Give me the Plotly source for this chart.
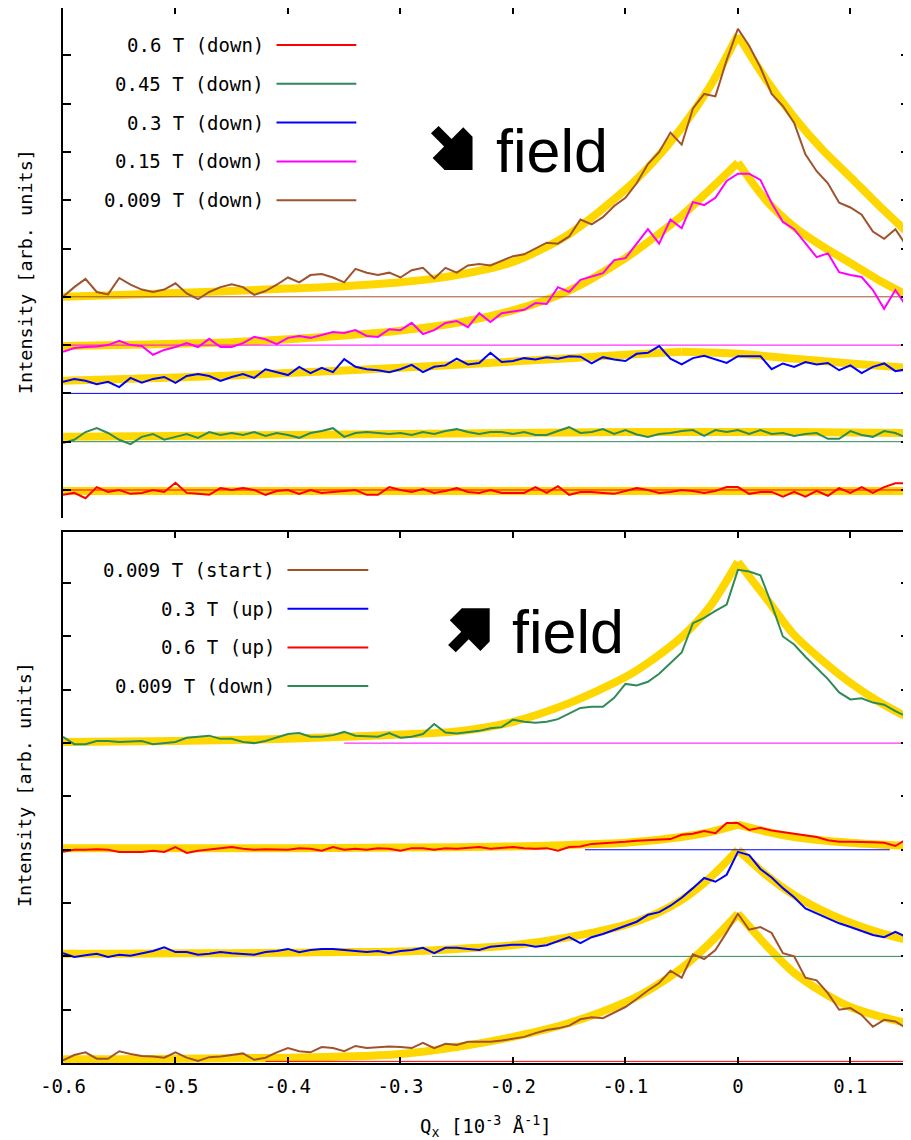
import plotly.graph_objects as go

# ---------------- data ----------------
QX = [-0.60, -0.59, -0.58, -0.57, -0.56, -0.55, -0.54, -0.53, -0.52, -0.51,
      -0.50, -0.49, -0.48, -0.47, -0.46, -0.45, -0.44, -0.43, -0.42, -0.41,
      -0.40, -0.39, -0.38, -0.37, -0.36, -0.35, -0.34, -0.33, -0.32, -0.31,
      -0.30, -0.29, -0.28, -0.27, -0.26, -0.25, -0.24, -0.23, -0.22, -0.21,
      -0.20, -0.19, -0.18, -0.17, -0.16, -0.15, -0.14, -0.13, -0.12, -0.11,
      -0.10, -0.09, -0.08, -0.07, -0.06, -0.05, -0.04, -0.03, -0.02, -0.01,
      0.00, 0.01, 0.02, 0.03, 0.04, 0.05, 0.06, 0.07, 0.08, 0.09,
      0.10, 0.11, 0.12, 0.13, 0.14, 0.15]

# top panel (field decreasing), values already offset as plotted
TOP_0009_DOWN = [4.0, 4.2, 4.37, 4.1, 4.05, 4.39, 4.25, 4.15, 4.1, 4.15,
                 4.28, 4.07, 3.95, 4.1, 4.2, 4.26, 4.2, 4.04, 4.12, 4.25,
                 4.4, 4.3, 4.45, 4.47, 4.4, 4.3, 4.58, 4.5, 4.45, 4.5,
                 4.4, 4.55, 4.6, 4.38, 4.6, 4.5, 4.65, 4.68, 4.65, 4.75,
                 4.84, 4.88, 5.0, 5.12, 5.1, 5.25, 5.6, 5.5, 5.65, 5.88,
                 6.05, 6.35, 6.75, 7.0, 7.4, 7.15, 7.9, 8.2, 8.15, 8.9,
                 9.55, 9.2, 8.75, 8.2, 7.95, 7.6, 6.95, 6.6, 6.35, 5.95,
                 5.85, 5.7, 5.35, 5.2, 5.4, 5.05]
TOP_015_DOWN = [2.86, 2.94, 2.96, 2.97, 3.0, 3.09, 3.0, 2.98, 2.8, 2.9,
                2.96, 3.04, 2.96, 3.13, 2.96, 2.96, 3.04, 3.17, 3.12, 3.02,
                3.15, 3.19, 3.15, 3.21, 3.27, 3.25, 3.31, 3.19, 3.17, 3.33,
                3.31, 3.46, 3.23, 3.31, 3.46, 3.5, 3.37, 3.66, 3.48, 3.66,
                3.69, 3.73, 3.87, 3.85, 4.2, 4.1, 4.35, 4.42, 4.49, 4.76,
                4.8, 5.1, 5.4, 5.1, 5.6, 5.42, 5.96, 5.9, 6.05, 6.4,
                6.55, 6.55, 6.42, 5.94, 5.55, 5.4, 5.11, 4.82, 4.9, 4.51,
                4.45, 4.41, 4.14, 3.75, 4.14, 3.8]
TOP_03_DOWN = [2.24, 2.3, 2.26, 2.19, 2.24, 2.13, 2.32, 2.22, 2.3, 2.34,
               2.22, 2.36, 2.4, 2.36, 2.26, 2.34, 2.4, 2.32, 2.5, 2.44,
               2.38, 2.55, 2.42, 2.53, 2.44, 2.71, 2.55, 2.5, 2.48, 2.44,
               2.5, 2.59, 2.44, 2.55, 2.58, 2.72, 2.6, 2.63, 2.84, 2.65,
               2.67, 2.73, 2.7, 2.75, 2.72, 2.77, 2.76, 2.62, 2.75, 2.7,
               2.67, 2.82, 2.84, 2.98, 2.72, 2.6, 2.73, 2.78, 2.7, 2.63,
               2.77, 2.77, 2.77, 2.5, 2.62, 2.55, 2.65, 2.6, 2.63, 2.48,
               2.58, 2.42, 2.55, 2.62, 2.46, 2.5]
TOP_045_DOWN = [0.97, 1.04, 1.2, 1.28, 1.18, 1.04, 0.95, 1.1, 1.16, 1.04,
                1.1, 1.16, 1.08, 1.2, 1.14, 1.18, 1.14, 1.2, 1.12, 1.18,
                1.14, 1.08, 1.18, 1.22, 1.28, 1.1, 1.18, 1.2, 1.18, 1.16,
                1.18, 1.14, 1.2, 1.16, 1.22, 1.26, 1.2, 1.16, 1.2, 1.2,
                1.16, 1.2, 1.14, 1.14, 1.22, 1.3, 1.18, 1.2, 1.26, 1.16,
                1.24, 1.15, 1.1, 1.16, 1.18, 1.22, 1.24, 1.12, 1.24, 1.2,
                1.24, 1.16, 1.24, 1.16, 1.18, 1.12, 1.16, 1.18, 1.06, 1.06,
                1.22, 1.14, 1.1, 1.22, 1.18, 1.08]
TOP_06_DOWN = [-0.1, -0.06, -0.17, 0.06, -0.04, 0.0, -0.08, -0.06, 0.0, -0.04,
               0.15, -0.06, -0.08, -0.1, 0.04, 0.0, 0.04, 0.0, -0.1, -0.02,
               0.0, -0.08, 0.0, -0.06, -0.04, -0.02, 0.0, -0.1, -0.1, 0.06,
               0.0, -0.04, 0.02, -0.06, -0.02, 0.04, -0.04, -0.06, 0.0, -0.06,
               -0.06, -0.06, 0.06, -0.06, 0.08, -0.1, -0.04, -0.04, -0.06, -0.08,
               -0.02, 0.04, 0.0, -0.06, -0.04, 0.0, -0.02, -0.06, -0.02, 0.06,
               0.06, -0.08, -0.04, -0.04, -0.14, -0.04, -0.14, -0.02, -0.12, 0.04,
               -0.06, 0.06, -0.06, 0.06, 0.14, 0.14]

# bottom panel (field increasing)
BOT_0009_DOWN = [6.12, 5.98, 5.98, 6.04, 6.04, 6.02, 6.03, 6.04, 5.98, 6.0,
                 6.02, 6.1, 6.12, 6.14, 6.08, 6.08, 6.02, 6.0, 6.04, 6.1,
                 6.17, 6.19, 6.12, 6.12, 6.15, 6.21, 6.14, 6.13, 6.12, 6.19,
                 6.1, 6.12, 6.17, 6.36, 6.2, 6.18, 6.21, 6.23, 6.28, 6.3,
                 6.44, 6.4, 6.38, 6.4, 6.45, 6.55, 6.66, 6.68, 6.68, 6.85,
                 7.11, 7.08, 7.15, 7.3, 7.5, 7.7, 8.25, 8.35, 8.48, 8.6,
                 9.25, 9.22, 9.15, 8.6, 8.0, 7.85, 7.62, 7.4, 7.2, 6.95,
                 6.82, 6.84, 6.76, 6.72, 6.6, 6.5]
BOT_06_UP = [3.96, 4.0, 4.0, 4.01, 4.0, 3.96, 3.96, 3.96, 3.98, 3.96,
             4.05, 3.94, 3.98, 4.0, 4.02, 4.05, 4.02, 4.0, 4.01, 4.0,
             4.0, 4.03, 4.02, 3.98, 4.05, 4.0, 4.02, 4.0, 4.03, 4.02,
             3.98, 4.03, 4.03, 4.0, 4.03, 4.02, 4.03, 4.05, 4.02, 4.03,
             4.05, 4.03, 4.02, 4.03, 3.98, 4.05, 4.06, 4.11, 4.12, 4.13,
             4.15, 4.17, 4.18, 4.18, 4.2, 4.28, 4.3, 4.35, 4.31, 4.5,
             4.5, 4.37, 4.41, 4.36, 4.33, 4.3, 4.27, 4.24, 4.18, 4.15,
             4.15, 4.15, 4.14, 4.13, 4.07, 4.2]
BOT_03_UP = [2.06, 1.99, 2.02, 2.05, 1.99, 2.03, 2.01, 2.06, 2.1, 2.17,
             2.08, 2.08, 2.03, 2.05, 2.08, 2.06, 2.05, 2.03, 2.08, 2.1,
             2.14, 2.08, 2.12, 2.14, 2.14, 2.12, 2.1, 2.08, 2.1, 2.06,
             2.1, 2.12, 2.16, 2.06, 2.16, 2.16, 2.14, 2.12, 2.18, 2.2,
             2.22, 2.22, 2.18, 2.21, 2.28, 2.36, 2.25, 2.36, 2.42, 2.5,
             2.58, 2.65, 2.78, 2.83, 2.95, 3.1, 3.28, 3.47, 3.4, 3.53,
             3.96, 3.9, 3.64, 3.48, 3.28, 3.11, 2.9, 2.81, 2.72, 2.62,
             2.55, 2.48, 2.4, 2.36, 2.46, 2.36]
BOT_0009_START = [0.05, 0.15, 0.2, 0.08, 0.08, 0.22, 0.17, 0.13, 0.12, 0.1,
                  0.2, 0.1, 0.04, 0.11, 0.12, 0.15, 0.18, 0.06, 0.1, 0.2,
                  0.28, 0.22, 0.2, 0.3, 0.28, 0.22, 0.32, 0.28, 0.3, 0.31,
                  0.3, 0.28, 0.38, 0.28, 0.36, 0.34, 0.4, 0.4, 0.4, 0.42,
                  0.45, 0.49, 0.56, 0.62, 0.65, 0.7, 0.82, 0.86, 0.84, 0.95,
                  1.05, 1.2, 1.36, 1.5, 1.73, 1.6, 2.04, 1.95, 2.12, 2.45,
                  2.8, 2.5, 2.55, 2.44, 2.06, 2.0, 1.6, 1.55, 1.31, 1.0,
                  1.03, 0.9, 0.68, 0.81, 0.78, 0.65]

# fitted curves (yellow)
FIT_X_WIDE = [-0.6, -0.55, -0.5, -0.45, -0.4, -0.35, -0.3, -0.25, -0.2, -0.15,
              -0.1, -0.075, -0.05, -0.025, 0.0, 0.025, 0.05, 0.075, 0.1, 0.125, 0.15]
FIT_TOP_0009 = [4.0, 4.04, 4.08, 4.12, 4.17, 4.22, 4.3, 4.45, 4.72, 5.3,
                6.22, 6.8, 7.5, 8.35, 9.42, 8.5, 7.72, 7.05, 6.48, 5.9, 5.35]
FIT_TOP_015 = [2.98, 3.0, 3.03, 3.06, 3.12, 3.2, 3.3, 3.46, 3.72, 4.13,
               4.8, 5.22, 5.68, 6.22, 6.78, 6.0, 5.45, 5.05, 4.7, 4.35, 4.04]
FIT_BOT_0009_DOWN = [6.02, 6.03, 6.04, 6.06, 6.08, 6.12, 6.16, 6.22, 6.4, 6.75,
                     7.24, 7.58, 7.99, 8.56, 9.4, 8.72, 8.03, 7.55, 7.13, 6.78, 6.49]
FIT_BOT_03_UP = [2.05, 2.05, 2.06, 2.06, 2.07, 2.08, 2.09, 2.14, 2.21, 2.36,
                 2.59, 2.78, 3.06, 3.47, 4.0, 3.53, 3.15, 2.86, 2.63, 2.45, 2.31]
FIT_BOT_0009_START = [0.07, 0.07, 0.08, 0.09, 0.1, 0.12, 0.17, 0.3, 0.49, 0.75,
                      1.14, 1.42, 1.78, 2.25, 2.8, 2.21, 1.69, 1.33, 1.05, 0.88, 0.75]
FIT_X_NARROW = [-0.6, -0.4, -0.3, -0.2, -0.15, -0.1, -0.05, -0.025, 0.0, 0.025, 0.05, 0.1, 0.15]
FIT_BOT_06_UP = [4.03, 4.03, 4.04, 4.06, 4.09, 4.13, 4.24, 4.33, 4.47, 4.34, 4.24, 4.13, 4.07]
FIT_X_FLAT = [-0.6, -0.5, -0.4, -0.3, -0.2, -0.15, -0.1, -0.05, 0.0, 0.05, 0.1, 0.15]
FIT_TOP_03 = [2.26, 2.33, 2.42, 2.53, 2.66, 2.73, 2.8, 2.86, 2.82, 2.72, 2.62, 2.53]
FIT_TOP_045 = [1.1, 1.12, 1.14, 1.16, 1.18, 1.19, 1.2, 1.2, 1.2, 1.2, 1.19, 1.18]
FIT_TOP_06 = [-0.02, -0.02, -0.02, -0.02, -0.02, -0.02, -0.02, -0.02, -0.02, -0.02, -0.02, -0.02]

# horizontal reference (offset) lines: level, x-start, x-end
TOP_BASE_LEVELS = [0, 1, 2, 3, 4]
BOT_BASE_LEVELS = [0.03, 2.0, 4.0, 6.0]
BOT_BASE_X0 = [-0.42, -0.272, -0.136, -0.35]
BOT_BASE_X1 = [0.1521, 0.1521, 0.135, 0.1521]

X_TICKS = [-0.6, -0.5, -0.4, -0.3, -0.2, -0.1, 0.0, 0.1]
X_TICK_TEXT = ['-0.6', '-0.5', '-0.4', '-0.3', '-0.2', '-0.1', '0', '0.1']
TOP_Y_TICKS = [0, 1, 2, 3, 4, 5, 6, 7, 8, 9]
BOT_Y_TICKS = [0, 1, 2, 3, 4, 5, 6, 7, 8, 9]

TOP_LEGEND = ['0.6 T (down)', '0.45 T (down)', '0.3 T (down)', '0.15 T (down)', '0.009 T (down)']
BOT_LEGEND = ['0.009 T (start)', '0.3 T (up)', '0.6 T (up)', '0.009 T (down)']

for s in [TOP_0009_DOWN, TOP_015_DOWN, TOP_03_DOWN, TOP_045_DOWN, TOP_06_DOWN,
          BOT_0009_DOWN, BOT_06_UP, BOT_03_UP, BOT_0009_START]:
    assert len(s) == len(QX), len(s)

# ---------------- styling ----------------
RED, GREEN, BLUE, MAGENTA, BROWN = '#ff0000', '#2e8b57', '#0000ff', '#ff00ff', '#a0522d'
GOLD = '#ffd700'
MONO = 'DejaVu Sans Mono'

OFF = 8                      # page body margin of the html page
W, H = 911 - OFF, 1140 - OFF
ML, MR, MT, MB = 63 - OFF, 0, 0, 77
PW, PH = W - ML - MR, H - MT - MB


def pxx(px):                 # page pixel -> paper x
    return (px - OFF - ML) / PW


def pxy(py):                 # page pixel -> paper y
    return (H - MB - (py - OFF)) / PH


X_RANGE = [-0.6, 0.1521]
TOP_Y_RANGE = [-0.58, 9.98]
BOT_Y_RANGE = [0.0, 9.96]

fig = go.Figure()


def add_fit(x, y, top):
    # split at the maximum so the cusp stays sharp
    i = max(range(len(y)), key=lambda k: y[k])
    for xs, ys in ((x[:i + 1], y[:i + 1]), (x[i:], y[i:])):
        if len(xs) < 2:
            continue
        fig.add_trace(go.Scatter(x=xs, y=ys, mode='lines',
                                 line=dict(color=GOLD, width=8, shape='spline', smoothing=0.8),
                                 xaxis='x2' if top else 'x', yaxis='y2' if top else 'y',
                                 hoverinfo='skip', showlegend=False))


# fits
add_fit(FIT_X_WIDE, FIT_TOP_0009, True)
add_fit(FIT_X_WIDE, FIT_TOP_015, True)
add_fit(FIT_X_FLAT, FIT_TOP_03, True)
add_fit(FIT_X_FLAT, FIT_TOP_045, True)
add_fit(FIT_X_FLAT, FIT_TOP_06, True)
add_fit(FIT_X_WIDE, FIT_BOT_0009_DOWN, False)
add_fit(FIT_X_NARROW, FIT_BOT_06_UP, False)
add_fit(FIT_X_WIDE, FIT_BOT_03_UP, False)
add_fit(FIT_X_WIDE, FIT_BOT_0009_START, False)

# offset lines
for lvl, c in zip(TOP_BASE_LEVELS, [RED, GREEN, BLUE, MAGENTA, BROWN]):
    fig.add_trace(go.Scatter(x=X_RANGE, y=[lvl, lvl], mode='lines',
                             line=dict(color=c, width=1), xaxis='x2', yaxis='y2',
                             hoverinfo='skip', showlegend=False))
for lvl, x0, x1, c in zip(BOT_BASE_LEVELS, BOT_BASE_X0, BOT_BASE_X1, [RED, GREEN, BLUE, MAGENTA]):
    fig.add_trace(go.Scatter(x=[x0, x1], y=[lvl, lvl], mode='lines',
                             line=dict(color=c, width=1), xaxis='x', yaxis='y',
                             hoverinfo='skip', showlegend=False))

# data
for ys, c in zip([TOP_06_DOWN, TOP_045_DOWN, TOP_03_DOWN, TOP_015_DOWN, TOP_0009_DOWN],
                 [RED, GREEN, BLUE, MAGENTA, BROWN]):
    fig.add_trace(go.Scatter(x=QX, y=ys, mode='lines', line=dict(color=c, width=2),
                             xaxis='x2', yaxis='y2', showlegend=False))
for ys, c in zip([BOT_0009_START, BOT_03_UP, BOT_06_UP, BOT_0009_DOWN],
                 [BROWN, BLUE, RED, GREEN]):
    fig.add_trace(go.Scatter(x=QX, y=ys, mode='lines', line=dict(color=c, width=2),
                             xaxis='x', yaxis='y', showlegend=False))

axis_common = dict(showline=True, linecolor='black', linewidth=2, ticks='inside',
                   tickcolor='black', tickwidth=2, showgrid=False, zeroline=False)

annotations = []
shapes = []

# legends (gnuplot style: text then line sample)
for i, (lab, c) in enumerate(zip(TOP_LEGEND, [RED, GREEN, BLUE, MAGENTA, BROWN])):
    yy = pxy(45 + i * 38.8)
    annotations.append(dict(x=pxx(266), y=yy, xref='paper', yref='paper', text=lab,
                            showarrow=False, xanchor='right', yanchor='middle',
                            font=dict(family=MONO, size=19, color='black')))
    shapes.append(dict(type='line', xref='paper', yref='paper', x0=pxx(277), x1=pxx(357),
                       y0=yy, y1=yy, line=dict(color=c, width=2)))
for i, (lab, c) in enumerate(zip(BOT_LEGEND, [BROWN, BLUE, RED, GREEN])):
    yy = pxy(570 + i * 38.7)
    annotations.append(dict(x=pxx(278), y=yy, xref='paper', yref='paper', text=lab,
                            showarrow=False, xanchor='right', yanchor='middle',
                            font=dict(family=MONO, size=19, color='black')))
    shapes.append(dict(type='line', xref='paper', yref='paper', x0=pxx(288), x1=pxx(369),
                       y0=yy, y1=yy, line=dict(color=c, width=2)))

# axis titles
for cy in (272, 785):
    annotations.append(dict(x=pxx(25), y=pxy(cy), xref='paper', yref='paper',
                            text='Intensity [arb. units]', textangle=-90, showarrow=False,
                            xanchor='center', yanchor='middle',
                            font=dict(family=MONO, size=18.5, color='black')))
annotations.append(dict(x=pxx(487), y=pxy(1126), xref='paper', yref='paper',
                        text='Q<sub>x</sub> [10<sup>-3</sup> Å<sup>-1</sup>]', showarrow=False,
                        xanchor='center', yanchor='middle',
                        font=dict(family=MONO, size=19, color='black')))

# "field" labels
annotations.append(dict(x=pxx(495), y=pxy(151), xref='paper', yref='paper', text='field',
                        showarrow=False, xanchor='left', yanchor='middle',
                        font=dict(family='Liberation Sans', size=61, color='black')))
annotations.append(dict(x=pxx(511), y=pxy(632), xref='paper', yref='paper', text='field',
                        showarrow=False, xanchor='left', yanchor='middle',
                        font=dict(family='Liberation Sans', size=61, color='black')))

# heavy arrows (drawn as filled outlines, tip-relative pixel offsets)
ARROW_OUTLINE = [(0, 0), (0, -33.3), (-9.3, -42.7), (-21, -31), (-34, -44),
                 (-41.7, -36.7), (-28.5, -23.5), (-40, -12), (-28, 0)]


def arrow_path(tipx, tipy, flip):
    pts = []
    for dx, dy in ARROW_OUTLINE:
        pts.append((pxx(tipx + dx), pxy(tipy + (-dy if flip else dy))))
    return 'M ' + ' L '.join(f'{a:.5f},{b:.5f}' for a, b in pts) + ' Z'


shapes.append(dict(type='path', xref='paper', yref='paper', path=arrow_path(473.5, 170, False),
                   fillcolor='black', line=dict(width=0)))
shapes.append(dict(type='path', xref='paper', yref='paper', path=arrow_path(490.7, 608.3, True),
                   fillcolor='black', line=dict(width=0)))

fig.update_layout(
    width=W, height=H,
    margin=dict(l=ML, r=MR, t=MT, b=MB, pad=0),
    paper_bgcolor='white', plot_bgcolor='white',
    showlegend=False,
    xaxis=dict(domain=[0, 1], range=X_RANGE, anchor='y', mirror='ticks', ticklen=6,
               tickvals=X_TICKS, ticktext=X_TICK_TEXT, ticklabelstandoff=5,
               tickfont=dict(family=MONO, size=19, color='black'), **axis_common),
    yaxis=dict(domain=[0, pxy(532)], range=BOT_Y_RANGE, anchor='x', mirror='ticks',
               ticklen=8, tickvals=BOT_Y_TICKS, showticklabels=False, **axis_common),
    xaxis2=dict(domain=[0, 1], range=X_RANGE, anchor='y2', side='top', ticklen=6,
                tickvals=X_TICKS, showticklabels=False, **axis_common),
    yaxis2=dict(domain=[pxy(518), 1], range=TOP_Y_RANGE, anchor='x2', mirror='ticks',
                ticklen=8, tickvals=TOP_Y_TICKS, showticklabels=False, **axis_common),
    annotations=annotations, shapes=shapes,
)

fig.write_html('out.html')
